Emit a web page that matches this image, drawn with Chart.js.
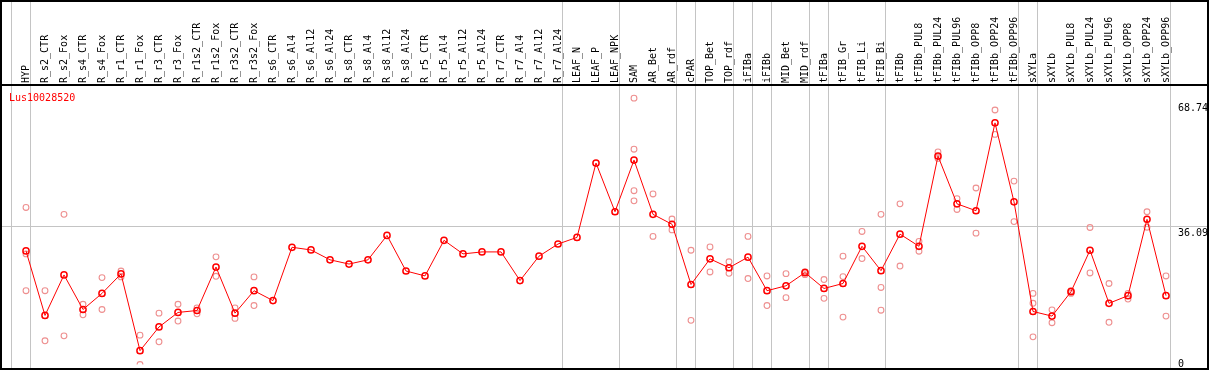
<!DOCTYPE html>
<html>
<head>
<meta charset="utf-8">
<script src="https://cdn.jsdelivr.net/npm/chart.js@4"></script>
<style>
  html, body { margin: 0; padding: 0; background: #fff; }
</style>
</head>
<body>
<canvas id="myChart" width="1209" height="370"></canvas>
<script>
const geneName = "Lus10028520";

const categories = [
  "HYP",
  "R_s2_CTR", "R_s2_Fox", "R_s4_CTR", "R_s4_Fox", "R_r1_CTR", "R_r1_Fox",
  "R_r3_CTR", "R_r3_Fox", "R_r1s2_CTR", "R_r1s2_Fox", "R_r3s2_CTR", "R_r3s2_Fox",
  "R_s6_CTR", "R_s6_Al4", "R_s6_Al12", "R_s6_Al24", "R_s8_CTR", "R_s8_Al4",
  "R_s8_Al12", "R_s8_Al24", "R_r5_CTR", "R_r5_Al4", "R_r5_Al12", "R_r5_Al24",
  "R_r7_CTR", "R_r7_Al4", "R_r7_Al12", "R_r7_Al24",
  "LEAF_N", "LEAF_P", "LEAF_NPK",
  "SAM", "AR_Bet", "AR_rdf",
  "cPAR",
  "TOP_Bet", "TOP_rdf",
  "iFIBa",
  "iFIBb",
  "MID_Bet", "MID_rdf",
  "tFIBa",
  "tFIB_Gr", "tFIB_Li", "tFIB_Bi",
  "tFIBb", "tFIBb_PUL8", "tFIBb_PUL24", "tFIBb_PUL96", "tFIBb_OPP8", "tFIBb_OPP24", "tFIBb_OPP96",
  "sXYLa",
  "sXYLb", "sXYLb_PUL8", "sXYLb_PUL24", "sXYLb_PUL96", "sXYLb_OPP8", "sXYLb_OPP24", "sXYLb_OPP96"
];

// mean expression per sample (red line)
const meanValues = [
  29.65,
  12.81, 23.38, 14.36, 18.56, 23.64, 3.61,
  9.80, 13.59, 14.10, 25.44, 13.41, 19.26,
  16.68, 30.60, 29.90, 27.33, 26.22, 27.33,
  33.69, 24.41, 23.12, 32.41, 28.87, 29.39,
  29.39, 21.91, 28.28, 31.45,
  33.18, 52.59, 39.88,
  53.36, 39.19, 36.61,
  20.88,
  27.58, 25.26,
  28.02,
  19.26,
  20.55, 23.98,
  19.85,
  21.14, 30.86, 24.49,
  34.03, 30.86, 54.40, 41.94, 40.14, 63.08, 42.46,
  13.84,
  12.63, 19.00, 29.83, 15.98, 17.97, 37.90, 17.97
];

// individual replicates (pink circles)
const replicateValues = [
  [40.99, 28.87, 19.26],
  [19.26, 6.19], [39.19, 7.48], [15.73, 12.97], [22.69, 14.36], [24.41, 22.87], [7.66, 0],
  [13.41, 5.93], [15.73, 11.34], [14.77, 13.23], [28.10, 23.02], [14.77, 12.04], [22.87, 15.39],
  [], [], [], [], [], [],
  [], [], [], [], [], [],
  [], [], [], [],
  [], [], [],
  [69.53, 56.20, 45.37, 42.72], [44.52, 33.44], [37.97, 35.14],
  [29.83, 11.52],
  [30.68, 24.16], [26.81, 23.79],
  [33.44, 22.43],
  [23.12, 15.39],
  [23.72, 17.45], [24.23, 23.46],
  [22.17, 17.27],
  [28.28, 22.94, 12.37], [34.73, 27.66], [39.19, 20.11, 14.18],
  [41.94, 25.70], [32.15, 29.57], [55.50, 53.80], [43.31, 40.47], [46.07, 34.29], [66.43, 60.07], [47.87, 37.30],
  [18.56, 15.98, 7.22],
  [14.26, 10.90], [19.26, 18.56], [35.76, 23.90], [21.14, 11.01], [18.56, 17.09], [39.88, 35.83], [23.12, 12.63]
];

const yTickValues = [68.74, 36.09, 0];
const gridValues = [36.09];

// last sample index of each tissue group (separator drawn after it)
const groupEnds = [-1, 0, 28, 31, 34, 35, 37, 38, 39, 41, 42, 45, 52, 53, 60];

const replicatePoints = [];
replicateValues.forEach(function (reps, i) {
  reps.forEach(function (v) {
    replicatePoints.push({ x: categories[i], y: v });
  });
});

const FONT = '10px "DejaVu Sans Mono", "Liberation Mono", monospace';

const decorations = {
  id: "decorations",
  beforeDatasetsDraw: function (chart) {
    const ctx = chart.ctx;
    const xs = chart.scales.x;
    const ys = chart.scales.y;
    const step = xs.getPixelForValue(1) - xs.getPixelForValue(0);
    ctx.save();
    ctx.fillStyle = "#c4c4c4";
    groupEnds.forEach(function (i) {
      const px = xs.getPixelForValue(0) + i * step + 4.5;
      ctx.fillRect(Math.floor(px), 0, 1, chart.height);
    });
    gridValues.forEach(function (v) {
      const py = ys.getPixelForValue(v);
      ctx.fillRect(0, Math.round(py), chart.width, 1);
    });
    ctx.restore();
  },
  afterDraw: function (chart) {
    const ctx = chart.ctx;
    const xs = chart.scales.x;
    const ys = chart.scales.y;
    const area = chart.chartArea;
    ctx.save();

    // frame
    ctx.fillStyle = "#000";
    ctx.fillRect(0, 0, chart.width, 2);
    ctx.fillRect(0, area.top - 1, chart.width, 2);
    ctx.fillRect(0, chart.height - 2, chart.width, 2);
    ctx.fillRect(0, 0, 2, chart.height);
    ctx.fillRect(chart.width - 2, 0, 2, chart.height);

    // rotated sample names
    ctx.font = FONT;
    ctx.fillStyle = "#000";
    ctx.textAlign = "left";
    ctx.textBaseline = "middle";
    categories.forEach(function (name, i) {
      const px = xs.getPixelForValue(i);
      ctx.save();
      ctx.translate(px, area.top - 2);
      ctx.rotate(-Math.PI / 2);
      ctx.fillText(name, 0, 0);
      ctx.restore();
    });

    // gene title
    ctx.fillStyle = "#ff0000";
    ctx.textBaseline = "alphabetic";
    ctx.fillText(geneName, 9, area.top + 16);

    // value labels on the right
    ctx.fillStyle = "#000";
    ctx.textBaseline = "top";
    yTickValues.forEach(function (v) {
      let py = ys.getPixelForValue(v) + 2;
      py = Math.min(py, chart.height - 11);
      ctx.fillText(String(v), area.right + 2.5, py);
    });
    ctx.restore();
  }
};

var ctx = document.getElementById("myChart").getContext("2d");

var chart = new Chart(ctx, {
  type: "line",
  data: {
    labels: categories,
    datasets: [
      {
        label: "mean",
        data: meanValues,
        borderColor: "#ff0000",
        borderWidth: 1,
        backgroundColor: "rgba(0,0,0,0)",
        pointBorderColor: "#ff0000",
        pointBackgroundColor: "rgba(0,0,0,0)",
        pointBorderWidth: 1.5,
        pointRadius: 3.1,
        tension: 0,
        fill: false
      },
      {
        label: "replicates",
        data: replicatePoints,
        showLine: false,
        pointBorderColor: "#ee9090",
        pointBackgroundColor: "rgba(0,0,0,0)",
        pointBorderWidth: 1.1,
        pointRadius: 2.9
      }
    ]
  },
  options: {
    responsive: false,
    animation: false,
    devicePixelRatio: 1,
    layout: { padding: { left: 16.5, right: 33.5, top: 85, bottom: 2 } },
    plugins: {
      legend: { display: false },
      tooltip: { enabled: false }
    },
    scales: {
      x: { type: "category", offset: true, display: false },
      y: { min: 0, max: 72.96, display: false }
    }
  },
  plugins: [decorations]
});
</script>
</body>
</html>
